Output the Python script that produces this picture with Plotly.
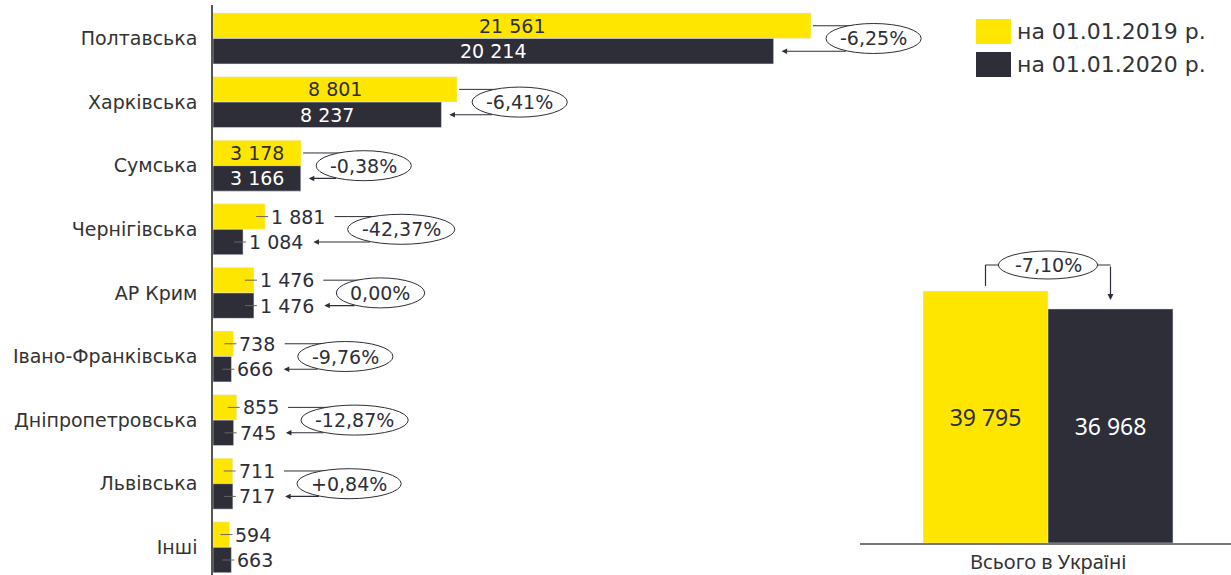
import plotly.graph_objects as go

# ---------------- data ----------------
regions = ["Полтавська", "Харківська", "Сумська", "Чернігівська", "АР Крим",
           "Івано-Франківська", "Дніпропетровська", "Львівська", "Інші"]
v2019 = [21561, 8801, 3178, 1881, 1476, 738, 855, 711, 594]
v2020 = [20214, 8237, 3166, 1084, 1476, 666, 745, 717, 663]
pct_change = ["-6,25%", "-6,41%", "-0,38%", "-42,37%", "0,00%", "-9,76%",
              "-12,87%", "+0,84%", None]
total_label = "Всього в Україні"
total2019 = 39795
total2020 = 36968
total_pct = "-7,10%"
legend_labels = ["на 01.01.2019 р.", "на 01.01.2020 р."]

# ---------------- styles ----------------
YEL = "#FFE600"
DARK = "#2E2E38"
TXT = "#333333"
W, H = 1231, 575
FONT = "DejaVu Sans"
FS = 19       # value labels
FSP = 19      # percent labels
FSC = 19      # category labels

X0PX = 213                 # left plot starts here (px)
XMAX = 36705               # data range of left x-axis
S = (W - X0PX) / XMAX      # px per unit
ROW_PX = 63.6              # px per category
ROW0_PX = 38.5             # centre of first category (px from top)
TOP_PX = 5

R_X0 = 860                 # right panel left px
R_BASE = 543               # right panel baseline px
S2 = 252 / 39795           # px per unit right panel
GROUP_PX = 250             # width of right bar group
R_CENTER = 1048


def fmt(v):
    return f"{v:,}".replace(",", " ")


CW = {d: 0.636 for d in "0123456789"}
CW.update({" ": 0.318, ",": 0.318, "-": 0.361, "+": 0.838, "%": 0.950})


def tw(s, size):
    return sum(CW.get(c, 0.6) for c in s) * size


ypos = list(range(len(regions)))
INSIDE_MIN = 3000

fig = go.Figure()
fig.add_trace(go.Bar(y=ypos, x=v2019, orientation="h", marker_color=YEL,
                     name=legend_labels[0], xaxis="x", yaxis="y",
                     hoverinfo="skip"))
fig.add_trace(go.Bar(y=ypos, x=v2020, orientation="h", marker_color=DARK,
                     name=legend_labels[1], xaxis="x", yaxis="y",
                     hoverinfo="skip"))

# right panel
fig.add_trace(go.Bar(x=[0], y=[total2019], marker_color=YEL, xaxis="x2", yaxis="y2",
                     text=[fmt(total2019)], textposition="inside",
                     insidetextanchor="middle", textangle=0,
                     textfont=dict(family="Noto Sans", size=23, color=DARK),
                     hoverinfo="skip"))
fig.add_trace(go.Bar(x=[0], y=[total2020], marker_color=DARK, xaxis="x2", yaxis="y2",
                     text=[fmt(total2020)], textposition="inside",
                     insidetextanchor="middle", textangle=0,
                     textfont=dict(family="Noto Sans", size=23, color="white"),
                     hoverinfo="skip"))

shapes = []
annos = []
LINEC = "#2E2E38"
LEADC = "#666666"

for i in ypos:
    a, b = v2019[i], v2020[i]
    ya, yb = i - 0.2, i + 0.2
    la, lb = fmt(a), fmt(b)
    inside = a >= INSIDE_MIN
    if inside:
        annos.append(dict(x=a / 2, y=ya, text=la, showarrow=False,
                          font=dict(size=FS, color=DARK)))
        annos.append(dict(x=b / 2, y=yb, text=lb, showarrow=False,
                          font=dict(size=FS, color="white")))
        start_px = a * S + 2
        tip_px = b * S + 8
    else:
        for v, yy, lab in ((a, ya, la), (b, yb, lb)):
            shapes.append(dict(type="line", xref="x", yref="y", xsizemode="pixel",
                               xanchor=v, x0=-9, x1=3, y0=yy, y1=yy,
                               line=dict(color=LEADC, width=1)))
            annos.append(dict(x=v, y=yy, text=lab, showarrow=False, xanchor="left",
                              xshift=4, font=dict(size=FS, color=DARK)))
        start_px = a * S + 6 + tw(la, FS) + 9
        tip_px = b * S + 6 + tw(lb, FS) + 10
    p = pct_change[i]
    if p is None:
        continue
    ew = tw(p, FSP) + 28
    cx = start_px + 13 + ew / 2
    # line from 2019 bar to ellipse
    shapes.append(dict(type="line", xref="x", yref="y", xsizemode="pixel", xanchor=0,
                       x0=start_px, x1=cx, y0=ya, y1=ya,
                       line=dict(color=LINEC, width=1)))
    shapes.append(dict(type="circle", xref="x", yref="y", xsizemode="pixel",
                       ysizemode="pixel", xanchor=0, yanchor=i,
                       x0=cx - ew / 2, x1=cx + ew / 2, y0=-15, y1=15,
                       line=dict(color=LINEC, width=1), fillcolor="white"))
    annos.append(dict(x=cx / S, y=i, text=p, showarrow=False,
                      font=dict(size=FSP, color=DARK)))
    tail_px = cx - (ew / 2) * 0.55
    annos.append(dict(x=tip_px / S, y=yb, text="", showarrow=True, ax=tail_px - tip_px,
                      ay=0, arrowhead=2, arrowsize=1, arrowwidth=1.1,
                      arrowcolor=LINEC))

# right panel bracket
LEVEL = 26
shapes.append(dict(type="line", xref="x2", yref="y2", ysizemode="pixel",
                   yanchor=total2019, x0=-0.2, x1=-0.2, y0=5, y1=LEVEL,
                   line=dict(color=LINEC, width=1.2)))
shapes.append(dict(type="line", xref="x2", yref="y2", ysizemode="pixel",
                   yanchor=total2019, x0=-0.2, x1=0.2, y0=LEVEL, y1=LEVEL,
                   line=dict(color=LINEC, width=1.2)))
tew = tw(total_pct, FSP) + 32
shapes.append(dict(type="circle", xref="x2", yref="y2", xsizemode="pixel",
                   ysizemode="pixel", xanchor=0, yanchor=total2019,
                   x0=-tew / 2, x1=tew / 2, y0=LEVEL - 14, y1=LEVEL + 14,
                   line=dict(color=LINEC, width=1), fillcolor="white"))
annos.append(dict(x=0, y=total2019, xref="x2", yref="y2", yshift=LEVEL, text=total_pct,
                  showarrow=False, font=dict(size=FSP, color=DARK)))
head_gap = 9
annos.append(dict(x=0.2, y=total2020, xref="x2", yref="y2", yshift=head_gap, text="",
                  showarrow=True, ax=0,
                  ay=-((total2019 - total2020) * S2 + LEVEL - head_gap),
                  arrowhead=2, arrowsize=1, arrowwidth=1.2, arrowcolor=LINEC))

# category label of right panel (as annotation to keep it inside the page)
annos.append(dict(x=0, y=0, xref="x2", yref="y2", yshift=-18, yanchor="middle",
                  text=total_label, showarrow=False,
                  font=dict(family="Noto Sans", size=20, color=TXT)))

# manual legend
for k, (lab, col) in enumerate(zip(legend_labels, [YEL, DARK])):
    top = 19 + k * 33
    shapes.append(dict(type="rect", xref="paper", yref="paper",
                       x0=976 / W, x1=1011 / W, y0=1 - (top + 25) / H, y1=1 - top / H,
                       fillcolor=col, line=dict(width=0)))
    annos.append(dict(xref="paper", yref="paper", x=1015 / W, y=1 - (top + 12.5) / H,
                      xanchor="left", yanchor="middle", text=lab, showarrow=False,
                      font=dict(size=22, color=TXT)))

# axes geometry
y_top = -(ROW0_PX - TOP_PX) / ROW_PX
y_bot = (len(regions) - 1) + (H - (ROW0_PX + ROW_PX * (len(regions) - 1))) / ROW_PX
unit2 = GROUP_PX / 0.8
x2_lo = -(R_CENTER - R_X0) / unit2
x2_hi = x2_lo + (W - R_X0) / unit2

fig.update_layout(
    width=W, height=H, margin=dict(l=0, r=0, t=0, b=0, autoexpand=False),
    paper_bgcolor="white", plot_bgcolor="rgba(0,0,0,0)",
    font=dict(family=FONT, color=TXT),
    barmode="group", bargap=0.2, bargroupgap=0,
    showlegend=False,
    xaxis=dict(domain=[X0PX / W, 1], range=[0, XMAX], visible=False,
               anchor="y", fixedrange=True, automargin=False),
    yaxis=dict(domain=[0, 1 - TOP_PX / H], range=[y_bot, y_top], tickvals=ypos,
               ticktext=regions, showline=True, linecolor="#555555", linewidth=1.5,
               showgrid=False, zeroline=False, ticks="", ticklabelstandoff=10,
               tickfont=dict(size=FSC, color=TXT), anchor="x", automargin=False),
    xaxis2=dict(domain=[R_X0 / W, 1], range=[x2_lo, x2_hi], anchor="y2",
                showticklabels=False, showline=True,
                linecolor="#777777", linewidth=1.5, ticks="", showgrid=False,
                zeroline=False, automargin=False),
    yaxis2=dict(domain=[(H - R_BASE) / H, 1], range=[0, R_BASE / S2], anchor="x2",
                visible=False, automargin=False),
    shapes=shapes, annotations=annos,
)

fig.write_html("out.html", config={"displayModeBar": False},
               post_script="document.body.style.margin='0px';document.body.style.overflow='hidden';")
